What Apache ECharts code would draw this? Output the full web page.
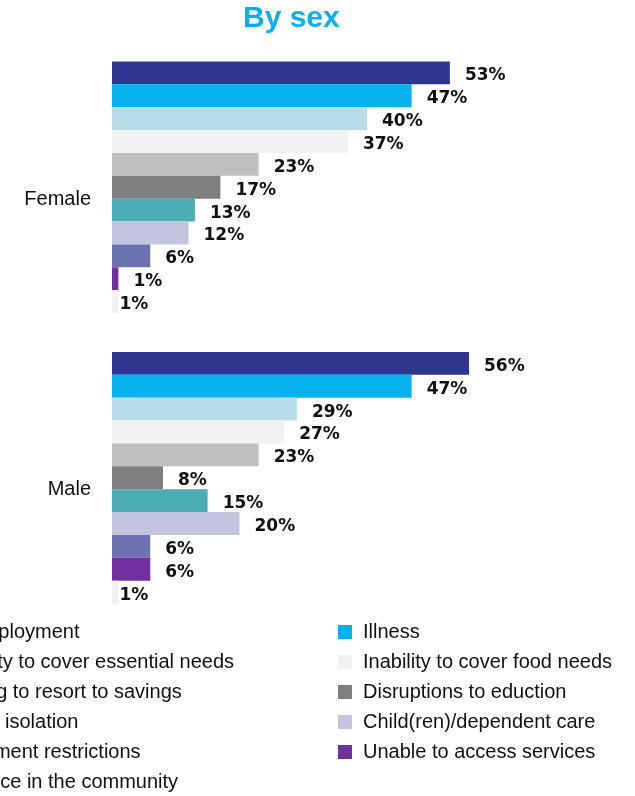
<!DOCTYPE html>
<html>
<head>
<meta charset="utf-8">
<script src="https://cdn.jsdelivr.net/npm/echarts@6/dist/echarts.min.js"></script>
<style>
  html, body { margin: 0; padding: 0; background: #ffffff; }
  #chart { width: 635px; height: 796px; }
</style>
</head>
<body>
<div id="chart"></div>
<script>
// Groups shown on the vertical axis
const categories = ['Female', 'Male'];

// Reported impacts, one series each (values in %: Female, Male)
const seriesNames = [
  'Unemployment',
  'Illness',
  'Inability to cover essential needs',
  'Inability to cover food needs',
  'Having to resort to savings',
  'Disruptions to eduction',
  'Social isolation',
  'Child(ren)/dependent care',
  'Movement restrictions',
  'Unable to access services',
  'Violence in the community'
];
const unemployment      = [53, 56];
const illness           = [47, 47];
const essentialNeeds    = [40, 29];
const foodNeeds         = [37, 27];
const savings           = [23, 23];
const education         = [17, 8];
const isolation         = [13, 15];
const dependentCare     = [12, 20];
const movement          = [6, 6];
const accessServices    = [1, 6];
const violence          = [1, 1];

const seriesValues = [
  unemployment, illness, essentialNeeds, foodNeeds, savings,
  education, isolation, dependentCare, movement, accessServices, violence
];

const palette = [
  '#2E3690', '#08B0EE', '#B9DDE8', '#F2F2F2', '#BFBFBF',
  '#7F7F7F', '#4BADB4', '#C3C5DE', '#6C71B0', '#7030A0', '#F2F2F2'
];

// Legend laid out in two columns (odd / even series)
const legendLeftCol = [0, 2, 4, 6, 8, 10].map(i => seriesNames[i]);
const legendRightCol = [1, 3, 5, 7, 9].map(i => seriesNames[i]);

const chart = echarts.init(document.getElementById('chart'), null, { renderer: 'canvas' });

const legendCommon = {
  orient: 'vertical',
  top: 622,
  height: 180,
  padding: 0,
  icon: 'rect',
  itemWidth: 14,
  itemHeight: 14,
  itemGap: 10,
  selectedMode: false,
  textStyle: {
    fontFamily: 'Liberation Sans, Arial, sans-serif',
    fontSize: 20,
    lineHeight: 20,
    color: '#111111',
    padding: [0, 0, 0, 6]
  }
};

const option = {
  backgroundColor: '#ffffff',
  animation: false,
  color: palette,
  title: {
    text: 'By sex',
    left: 243,
    top: 4,
    padding: 0,
    textStyle: {
      fontFamily: 'Liberation Sans, Arial, sans-serif',
      fontSize: 30,
      fontWeight: 'bold',
      color: '#0AB0EE'
    }
  },
  legend: [
    Object.assign({}, legendCommon, { left: -80, width: 330, data: legendLeftCol }),
    Object.assign({}, legendCommon, { left: 338, width: 297, data: legendRightCol })
  ],
  grid: {
    left: 112,
    right: 13,
    top: 42,
    bottom: 173,
    containLabel: false
  },
  xAxis: {
    type: 'value',
    min: 0,
    max: 80,
    show: false
  },
  yAxis: {
    type: 'category',
    data: categories,
    inverse: true,
    axisLine: { show: false },
    axisTick: { show: false },
    axisLabel: {
      margin: 21,
      fontFamily: 'Liberation Sans, Arial, sans-serif',
      fontSize: 20,
      color: '#111111',
      verticalAlign: 'top',
      lineHeight: 24
    }
  },
  series: seriesNames.map((name, i) => ({
    name: name,
    type: 'bar',
    data: seriesValues[i],
    barGap: '0%',
    barCategoryGap: '13.4%',
    itemStyle: { color: palette[i] },
    label: {
      show: true,
      position: 'right',
      distance: i === seriesNames.length - 1 ? 1 : 15,
      offset: [0, 3],
      formatter: '{c}%',
      fontFamily: 'DejaVu Sans, sans-serif',
      fontWeight: 'bold',
      fontSize: 17,
      color: '#111111'
    }
  }))
};

chart.setOption(option);
</script>
</body>
</html>
